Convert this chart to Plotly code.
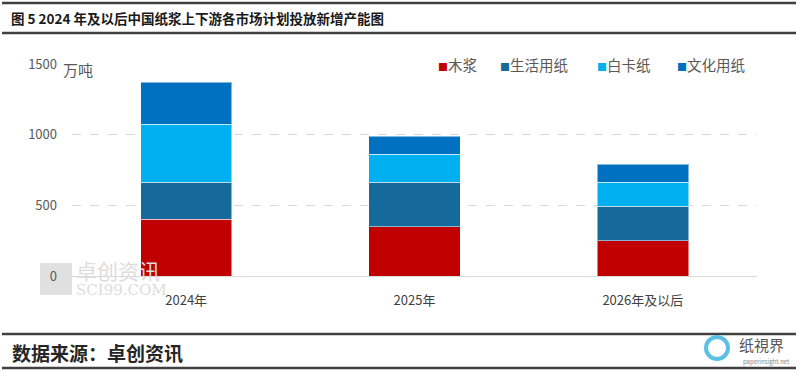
import plotly.graph_objects as go

categories = ["2024年", "2025年", "2026年及以后"]
series_names = ["木浆", "生活用纸", "白卡纸", "文化用纸"]
pulp = [400, 350, 250]
tissue = [265, 315, 245]
whiteboard = [410, 195, 170]
culture = [295, 130, 125]
y_ticks = [0, 500, 1000, 1500]

colors = ["#C00000", "#156A9B", "#00B0F0", "#0070C0"]
values = [pulp, tissue, whiteboard, culture]

FONT = "Noto Sans CJK SC"
fig = go.Figure()
for name, vals, c in zip(series_names, values, colors):
    fig.add_trace(go.Bar(
        x=categories, y=vals, name=name,
        marker=dict(color=c, line=dict(color="rgba(255,255,255,0.5)", width=1)),
        width=0.4, showlegend=False,
    ))

W, H = 800, 371
L, R, T, B = 72, 757, 64, 276
fig.update_layout(
    width=W, height=H,
    barmode="stack",
    margin=dict(l=L, r=W - R, t=T, b=H - B, pad=0, autoexpand=False),
    paper_bgcolor="white", plot_bgcolor="white",
    font=dict(family=FONT, size=13, color="#595959"),
    showlegend=False,
    xaxis=dict(
        showgrid=False, showline=True, linecolor="#D9D9D9", linewidth=1,
        ticks="", tickfont=dict(size=13, color="#404040"),
        range=[-0.5, 2.5], ticklabelstandoff=12,
    ),
    yaxis=dict(
        range=[0, 1500], tickvals=y_ticks,
        showgrid=True, gridcolor="#D9D9D9", griddash="dash", gridwidth=1,
        zeroline=False, showline=False, ticks="",
        tickfont=dict(size=13, color="#595959"), ticklabelstandoff=14,
    ),
)


def px(x):
    return (x - L) / (R - L)


def py(y):
    return (B - y) / (B - T)


# legend drawn as text with coloured squares
legend_x = [437, 499, 596, 676]
for name, c, lx in zip(series_names, colors, legend_x):
    fig.add_annotation(x=px(lx), y=py(64), xref="paper", yref="paper",
                       text=f"<span style='color:{c};font-size:10px'>■</span>{name}",
                       showarrow=False, xanchor="left", yanchor="middle",
                       bgcolor="white", borderpad=0,
                       font=dict(size=14.5, color="#595959", family=FONT))

# unit label
fig.add_annotation(x=px(61), y=py(69), xref="paper", yref="paper", text="万吨",
                   showarrow=False, xanchor="left", yanchor="middle",
                   font=dict(size=15, color="#595959", family=FONT))

# title and framing lines
for yy in (3, 33, 334, 368):
    fig.add_shape(type="line", xref="paper", yref="paper", x0=px(2), x1=px(796), y0=py(yy), y1=py(yy),
                  line=dict(color="#404040", width=2.5))

fig.add_annotation(x=px(9), y=py(18), xref="paper", yref="paper",
                   text="<b>图 5 2024 年及以后中国纸浆上下游各市场计划投放新增产能图</b>",
                   showarrow=False, xanchor="left", yanchor="middle",
                   font=dict(size=13.5, color="#1a1a1a", family=FONT))
fig.add_annotation(x=px(10), y=py(352), xref="paper", yref="paper",
                   text="<b>数据来源：卓创资讯</b>",
                   showarrow=False, xanchor="left", yanchor="middle",
                   font=dict(size=19, color="#262626", family=FONT))

# watermark
fig.add_shape(type="rect", xref="paper", yref="paper", x0=px(40), x1=px(72), y0=py(263), y1=py(295),
              line=dict(width=0), fillcolor="#E0E0E0", layer="below")
fig.add_annotation(x=px(75), y=py(270), xref="paper", yref="paper", text="卓创资讯",
                   showarrow=False, xanchor="left", yanchor="middle", borderpad=0,
                   font=dict(size=21, color="#DDDDDD", family=FONT))
fig.add_annotation(x=px(75), y=py(290), xref="paper", yref="paper", text="SCI99.COM",
                   showarrow=False, xanchor="left", yanchor="middle", borderpad=0,
                   font=dict(size=15, color="#DDDDDD", family="DejaVu Serif"))

# logo
fig.add_shape(type="circle", xref="paper", yref="paper", x0=px(706), x1=px(728), y0=py(337), y1=py(359),
              line=dict(color="#5BC0E6", width=4))
fig.add_annotation(x=px(737), y=py(344), xref="paper", yref="paper", text="纸視界",
                   showarrow=False, xanchor="left", yanchor="middle",
                   font=dict(size=15, color="#555555", family=FONT))
fig.add_annotation(x=px(741), y=py(361), xref="paper", yref="paper", text="paperinsight.net",
                   showarrow=False, xanchor="left", yanchor="middle",
                   font=dict(size=6, color="#888888", family=FONT))

fig.write_html("out.html", config={"displayModeBar": False},
               post_script="document.body.style.margin='0';document.body.style.overflow='hidden';")
